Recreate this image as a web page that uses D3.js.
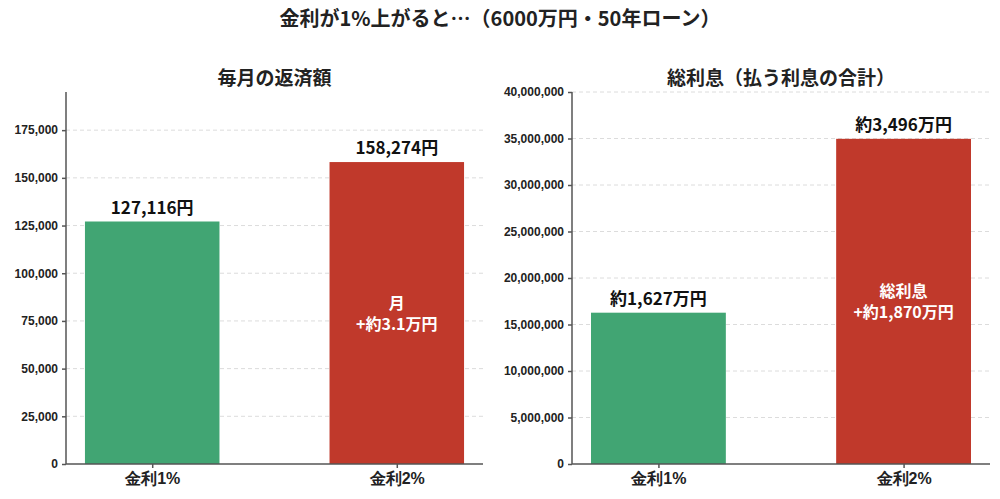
<!DOCTYPE html>
<html>
<head>
<meta charset="utf-8">
<script src="https://cdn.jsdelivr.net/npm/d3@7"></script>
<style>
  body { margin: 0; background: #fff; }
  svg { display: block; font-family: "Noto Sans CJK JP", "Noto Sans", sans-serif; }
  .grid line { stroke: #dcdcdc; stroke-dasharray: 4,3; }
  .axis path, .axis line { stroke: #555; stroke-width: 1.5; }
  .axis text { font-weight: 700; fill: #222; }
</style>
</head>
<body>
<svg width="1000" height="499"></svg>
<script>
// データ
const categories = ["金利1%", "金利2%"];
const monthlyValues = [127116, 158274];
const monthlyLabels = ["127,116円", "158,274円"];
const interestValues = [16269600, 34964400];
const interestLabels = ["約1,627万円", "約3,496万円"];
const monthlyDiffLabel = ["月", "+約3.1万円"];
const interestDiffLabel = ["総利息", "+約1,870万円"];
const barColors = ["#41a573", "#c0392b"];

const svg = d3.select("svg");

svg.append("text")
  .attr("x", 500).attr("y", 26)
  .attr("text-anchor", "middle")
  .style("font-size", "20px").style("font-weight", 700).style("fill", "#222")
  .text("金利が1%上がると…（6000万円・50年ローン）");

// 1つのパネルを描く
function drawPanel(opt) {
  const { left, right, top, bottom, yMax, tickStep, values, labels, diffLabel, title } = opt;

  const x = d3.scaleLinear().domain([-0.3525, 1.3525]).range([left, right]);
  const y = d3.scaleLinear().domain([0, yMax]).range([bottom, top]);
  const ticks = d3.range(0, yMax + 1, tickStep);
  const barW = 0.55;

  const g = svg.append("g");

  // タイトル
  g.append("text")
    .attr("x", (left + right) / 2).attr("y", top - 7)
    .attr("text-anchor", "middle")
    .style("font-size", "19px").style("font-weight", 700).style("fill", "#222")
    .text(title);

  // グリッド
  g.append("g").attr("class", "grid")
    .selectAll("line").data(ticks.filter(t => t > 0)).join("line")
    .attr("x1", left).attr("x2", right)
    .attr("y1", d => y(d)).attr("y2", d => y(d));

  // 棒
  g.selectAll("rect.bar").data(values).join("rect")
    .attr("class", "bar")
    .attr("x", (d, i) => x(i - barW / 2))
    .attr("width", (d, i) => x(i + barW / 2) - x(i - barW / 2))
    .attr("y", d => y(d))
    .attr("height", d => bottom - y(d))
    .attr("fill", (d, i) => barColors[i]);

  // 値ラベル
  g.selectAll("text.val").data(values).join("text")
    .attr("class", "val")
    .attr("x", (d, i) => x(i))
    .attr("y", d => y(d) - 8)
    .attr("text-anchor", "middle")
    .style("font-size", "17px").style("font-weight", 700).style("fill", "#111")
    .text((d, i) => labels[i]);

  // 差分ラベル（棒の中）
  const mid = (y(values[1]) + bottom) / 2;
  const t = g.append("text")
    .attr("x", x(1)).attr("text-anchor", "middle")
    .style("font-size", "16px").style("font-weight", 700).style("fill", "#fff");
  diffLabel.forEach((s, k) => {
    t.append("tspan").attr("x", x(1))
      .attr("y", mid - 4 + k * 20.5)
      .text(s);
  });

  // 軸
  const yAxis = d3.axisLeft(y).tickValues(ticks).tickSize(4).tickPadding(4)
    .tickFormat(d3.format(","));
  g.append("g").attr("class", "axis")
    .attr("transform", `translate(${left},0)`)
    .call(yAxis)
    .call(s => s.select(".domain").attr("d", `M0,${top}V${bottom}`))
    .selectAll("text").style("font-size", "12px");

  const xAxis = d3.axisBottom(x).tickValues([0, 1]).tickSize(4).tickPadding(5)
    .tickFormat(i => categories[i]);
  g.append("g").attr("class", "axis")
    .attr("transform", `translate(0,${bottom})`)
    .call(xAxis)
    .call(s => s.select(".domain").attr("d", `M${left},0H${right}`))
    .selectAll("text").style("font-size", "16px");
}

drawPanel({
  left: 66, right: 483, top: 92, bottom: 464,
  yMax: 195000, tickStep: 25000,
  values: monthlyValues, labels: monthlyLabels, diffLabel: monthlyDiffLabel,
  title: "毎月の返済額"
});

drawPanel({
  left: 572, right: 990, top: 92, bottom: 464,
  yMax: 40000000, tickStep: 5000000,
  values: interestValues, labels: interestLabels, diffLabel: interestDiffLabel,
  title: "総利息（払う利息の合計）"
});
</script>
</body>
</html>
